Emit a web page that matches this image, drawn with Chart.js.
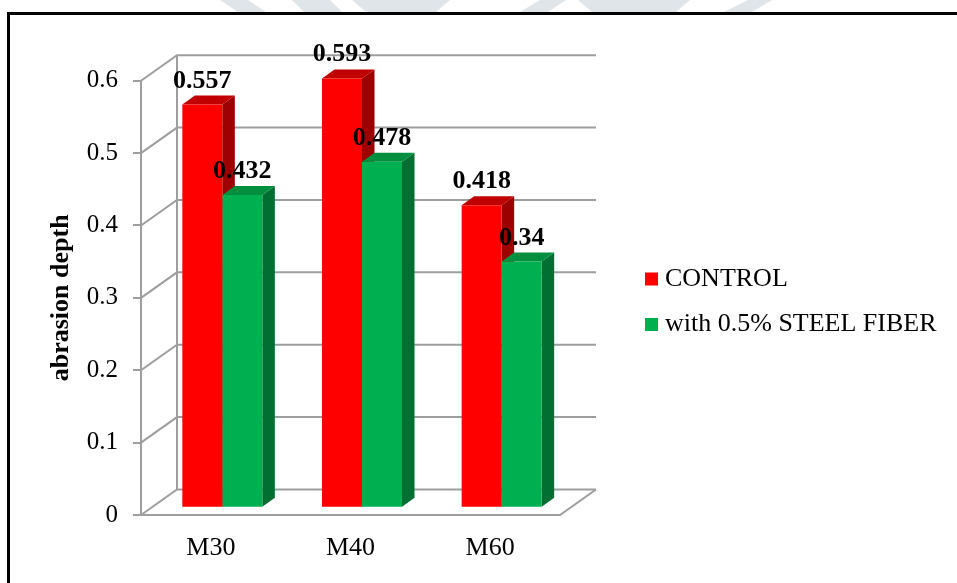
<!DOCTYPE html>
<html>
<head>
<meta charset="utf-8">
<script src="https://cdn.jsdelivr.net/npm/chart.js@4.4.1/dist/chart.umd.min.js"></script>
<style>
  html, body { margin: 0; padding: 0; background: #fff; }
  #wrap { position: relative; width: 957px; height: 583px; }
</style>
</head>
<body>
<div id="wrap"><canvas id="chart" width="957" height="583"></canvas></div>
<script>
const categories = ["M30", "M40", "M60"];
const seriesNames = ["CONTROL", "with 0.5% STEEL FIBER"];
const controlValues = [0.557, 0.593, 0.418];
const fiberValues = [0.432, 0.478, 0.34];
const yMax = 0.6;
const yStep = 0.1;

const FRONT = ["#ff0000", "#00b050"];
const TOP = ["#c00000", "#008f3e"];
const SIDE = ["#9c0000", "#006f31"];
const GRID = "#9e9e9e";
const FONT = "'Liberation Serif', 'Times New Roman', serif";

// fake 3D: wall depth, bar offset from the front plane, bar depth (px)
const WALL = { dx: 36, dy: -25.5 };
const BAR_SHIFT = { dx: 11.5, dy: -7.3 };
const BAR_DEPTH = { dx: 12.5, dy: -9 };
const LEGEND = { x: 645, y: 279, gap: 45.5, box: 13 };

// faint logo shapes peeking above the frame
const WATERMARK = [
  [[220, 0], [248, 0], [266, 12], [238, 12]],
  [[292, 0], [330, 0], [342, 12], [304, 12]],
  [[352, 0], [450, 0], [436, 12], [366, 12]],
  [[540, 0], [566, 0], [548, 12], [520, 12]],
  [[578, 0], [690, 0], [676, 12], [592, 12]],
  [[748, 0], [772, 0], [752, 12], [724, 12]]
];

function quad(ctx, color, pts) {
  ctx.fillStyle = color;
  ctx.beginPath();
  ctx.moveTo(pts[0][0], pts[0][1]);
  for (let i = 1; i < pts.length; i++) ctx.lineTo(pts[i][0], pts[i][1]);
  ctx.closePath();
  ctx.fill();
}

const bars3d = {
  id: "bars3d",
  beforeDraw(chart) {
    const ctx = chart.ctx;
    ctx.save();
    ctx.fillStyle = "#fff";
    ctx.fillRect(0, 0, chart.width, chart.height);
    WATERMARK.forEach(p => quad(ctx, "#dfe5e9", p));
    ctx.strokeStyle = "#000";
    ctx.lineWidth = 3;
    ctx.strokeRect(8.5, 13.5, chart.width + 20, chart.height + 20);
    ctx.restore();
  },
  beforeDatasetsDraw(chart) {
    const { ctx, chartArea: a, scales: { y } } = chart;
    ctx.save();

    // back wall, left wall and floor
    ctx.strokeStyle = GRID;
    ctx.lineWidth = 2;
    ctx.beginPath();
    y.ticks.forEach(t => {
      const py = y.getPixelForValue(t.value);
      ctx.moveTo(a.left, py);
      ctx.lineTo(a.left + WALL.dx, py + WALL.dy);
      ctx.lineTo(a.right + WALL.dx, py + WALL.dy);
    });
    ctx.moveTo(a.left + WALL.dx, y.getPixelForValue(yMax) + WALL.dy);
    ctx.lineTo(a.left + WALL.dx, y.getPixelForValue(0) + WALL.dy);
    ctx.moveTo(a.left, a.bottom);
    ctx.lineTo(a.right, a.bottom);
    ctx.lineTo(a.right + WALL.dx, a.bottom + WALL.dy);
    ctx.stroke();

    // side and top faces of every bar
    chart.data.datasets.forEach((ds, i) => {
      chart.getDatasetMeta(i).data.forEach(bar => {
        const l = bar.x - bar.width / 2 + BAR_SHIFT.dx;
        const r = bar.x + bar.width / 2 + BAR_SHIFT.dx;
        const t = bar.y + BAR_SHIFT.dy;
        const b = bar.base + BAR_SHIFT.dy;
        const dx = BAR_DEPTH.dx, dy = BAR_DEPTH.dy;
        quad(ctx, SIDE[i], [[r, t], [r + dx, t + dy], [r + dx, b + dy], [r, b]]);
        quad(ctx, TOP[i], [[l, t], [l + dx, t + dy], [r + dx, t + dy], [r, t]]);
      });
    });

    // front faces are the library's own bars, pushed back a little
    ctx.translate(BAR_SHIFT.dx, BAR_SHIFT.dy);
  },
  afterDatasetsDraw(chart) {
    const ctx = chart.ctx;
    ctx.restore();

    ctx.save();
    ctx.font = `bold 26px ${FONT}`;
    ctx.fillStyle = "#000";
    ctx.textAlign = "center";
    ctx.textBaseline = "alphabetic";
    chart.data.datasets.forEach((ds, i) => {
      chart.getDatasetMeta(i).data.forEach((bar, j) => {
        ctx.fillText(String(ds.data[j]), bar.x + BAR_SHIFT.dx, bar.y + BAR_SHIFT.dy - 17);
      });
    });
    ctx.restore();
  },
  afterDraw(chart) {
    const ctx = chart.ctx;
    ctx.save();
    ctx.font = `26px ${FONT}`;
    ctx.textBaseline = "middle";
    chart.data.datasets.forEach((ds, i) => {
      const cy = LEGEND.y + i * LEGEND.gap;
      ctx.fillStyle = ds.backgroundColor;
      ctx.fillRect(LEGEND.x, cy - LEGEND.box / 2, LEGEND.box, LEGEND.box);
      ctx.fillStyle = "#000";
      ctx.fillText(ds.label, LEGEND.x + 20, cy);
    });
    ctx.restore();
  }
};

const ctx = document.getElementById("chart").getContext("2d");
new Chart(ctx, {
  type: "bar",
  data: {
    labels: categories,
    datasets: [
      { label: seriesNames[0], data: controlValues, backgroundColor: FRONT[0] },
      { label: seriesNames[1], data: fiberValues, backgroundColor: FRONT[1] }
    ]
  },
  options: {
    responsive: false,
    animation: false,
    events: [],
    layout: { padding: { left: 40, top: 80.7, right: 397, bottom: 8 } },
    datasets: {
      bar: { categoryPercentage: 0.573, barPercentage: 1, borderWidth: 0 }
    },
    scales: {
      x: {
        grid: { display: false, drawTicks: false },
        border: { display: false },
        ticks: { color: "#000", padding: 18, font: { family: FONT, size: 26 } },
        afterFit: s => { s.height = 60; }
      },
      y: {
        min: 0,
        max: yMax,
        ticks: { stepSize: yStep, color: "#000", padding: 15, font: { family: FONT, size: 25 } },
        grid: { drawOnChartArea: false, drawTicks: true, tickLength: 8, color: GRID, lineWidth: 2 },
        border: { display: true, color: GRID, width: 2 },
        title: {
          display: true,
          text: "abrasion depth",
          color: "#000",
          padding: { top: 6, bottom: 0 },
          font: { family: FONT, size: 26, weight: "bold" }
        },
        afterFit: s => { s.width = 101; }
      }
    },
    plugins: {
      legend: { display: false },
      tooltip: { enabled: false }
    }
  },
  plugins: [bars3d]
});
</script>
</body>
</html>
